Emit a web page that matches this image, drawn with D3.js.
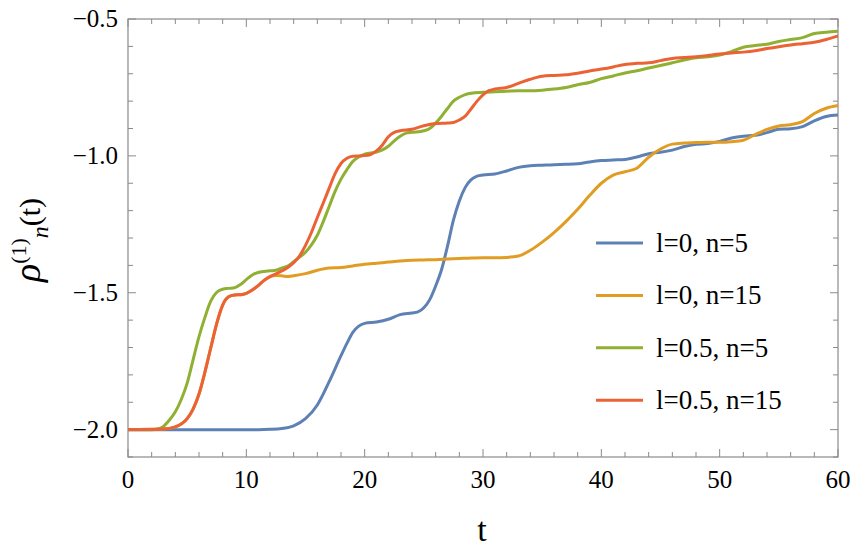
<!DOCTYPE html>
<html>
<head>
<meta charset="utf-8">
<script src="https://cdn.jsdelivr.net/npm/d3@7"></script>
</head>
<body style="margin:0">
<script>
var svgWidth = 855;
var svgHeight = 552;

var margin = { top: 19, right: 17, bottom: 95, left: 128 };
var width = svgWidth - margin.left - margin.right;
var height = svgHeight - margin.top - margin.bottom;

// series data, [t, rho] pairs
var blueData = [[0,-2],[4,-2],[8,-2],[11,-2],[12,-1.999],[13,-1.996],[14,-1.986],[15,-1.96],[16,-1.91],[17,-1.825],
  [18,-1.73],[18.5,-1.685],[19,-1.645],[19.5,-1.622],[20,-1.612],[21,-1.607],[22,-1.597],[23,-1.58],[24,-1.574],
  [24.5,-1.57],[25,-1.555],[25.5,-1.525],[26,-1.475],[26.5,-1.415],[27,-1.33],[27.5,-1.235],[28,-1.165],[28.5,-1.115],
  [29,-1.087],[29.5,-1.074],[30,-1.07],[31,-1.066],[32,-1.055],[33,-1.042],[34,-1.036],[35,-1.034],[36,-1.032],
  [37,-1.031],[38,-1.029],[39,-1.022],[40,-1.017],[41,-1.015],[42,-1.013],[43,-1.004],[44,-0.992],[45,-0.987],
  [46,-0.979],[47,-0.966],[48,-0.958],[49,-0.955],[50,-0.947],[51,-0.935],[52,-0.928],[53,-0.925],[54,-0.915],
  [55,-0.903],[56,-0.901],[57,-0.893],[58,-0.872],[59,-0.856],[60,-0.851]];

var orangeData = [[0,-2],[3,-1.998],[4,-1.99],[5,-1.96],[5.5,-1.925],[6,-1.87],[6.5,-1.79],[7,-1.7],[7.5,-1.612],
  [8,-1.545],[8.5,-1.515],[9,-1.508],[9.5,-1.507],[10,-1.502],[10.5,-1.49],[11,-1.474],[11.5,-1.455],[12,-1.441],
  [12.5,-1.437],[13,-1.438],[13.5,-1.441],[14,-1.438],[15,-1.43],[16,-1.418],[17,-1.41],[18,-1.408],[19,-1.402],
  [20,-1.396],[21,-1.392],[22,-1.388],[23,-1.384],[24,-1.381],[25,-1.38],[26,-1.379],[27,-1.377],[28,-1.375],
  [29,-1.373],[30,-1.372],[31,-1.372],[32,-1.371],[33,-1.366],[34,-1.345],[35,-1.315],[36,-1.28],[37,-1.24],
  [38,-1.195],[39,-1.145],[40,-1.1],[41,-1.07],[42,-1.058],[43,-1.045],[44,-1.005],[45,-0.975],[46,-0.957],
  [47,-0.953],[48,-0.951],[49,-0.95],[50,-0.95],[51,-0.948],[52,-0.943],[53,-0.922],[54,-0.903],[55,-0.891],
  [56,-0.886],[57,-0.875],[58,-0.845],[59,-0.826],[60,-0.816]];

var greenData = [[0,-2],[2,-2],[2.5,-1.998],[3,-1.988],[3.5,-1.965],[4,-1.935],[4.5,-1.89],[5,-1.83],[5.5,-1.745],
  [6,-1.66],[6.5,-1.59],[7,-1.53],[7.5,-1.498],[8,-1.487],[8.5,-1.484],[9,-1.482],[9.5,-1.47],[10,-1.452],
  [10.5,-1.435],[11,-1.426],[11.5,-1.422],[12,-1.42],[12.5,-1.418],[13,-1.41],[13.5,-1.403],[14,-1.387],
  [14.5,-1.37],[15,-1.352],[15.5,-1.325],[16,-1.29],[16.5,-1.24],[17,-1.185],[17.5,-1.13],[18,-1.085],
  [18.5,-1.05],[19,-1.02],[19.5,-1.004],[20,-0.994],[21,-0.986],[21.5,-0.978],[22,-0.965],[22.5,-0.945],
  [23,-0.928],[23.5,-0.917],[24,-0.914],[25,-0.908],[25.5,-0.9],[26,-0.88],[26.5,-0.855],[27,-0.827],
  [27.5,-0.8],[28,-0.786],[28.5,-0.776],[29,-0.771],[30,-0.768],[31,-0.766],[32,-0.764],[33,-0.762],
  [34,-0.762],[35,-0.76],[36,-0.756],[37,-0.75],[38,-0.74],[39,-0.732],[40,-0.718],[41,-0.708],[42,-0.697],
  [43,-0.689],[44,-0.679],[45,-0.67],[46,-0.66],[47,-0.65],[48,-0.642],[49,-0.638],[50,-0.632],[51,-0.619],
  [52,-0.603],[53,-0.597],[54,-0.592],[55,-0.582],[56,-0.575],[57,-0.568],[58,-0.553],[59,-0.548],[60,-0.545]];

var redData = [[0,-2],[3,-1.998],[4,-1.99],[5,-1.96],[5.5,-1.925],[6,-1.87],[6.5,-1.79],[7,-1.7],[7.5,-1.612],
  [8,-1.545],[8.5,-1.515],[9,-1.508],[9.5,-1.507],[10,-1.502],[10.5,-1.49],[11,-1.474],[11.5,-1.455],[12,-1.441],
  [12.5,-1.431],[13,-1.42],[13.5,-1.408],[14,-1.39],[14.5,-1.365],[15,-1.327],[15.5,-1.28],[16,-1.225],
  [16.5,-1.172],[17,-1.118],[17.5,-1.065],[18,-1.028],[18.5,-1.009],[19,-1.001],[20,-0.999],[20.5,-0.995],
  [21,-0.982],[21.5,-0.96],[22,-0.93],[22.5,-0.914],[23,-0.908],[24,-0.903],[25,-0.89],[26,-0.882],[27,-0.88],
  [27.5,-0.878],[28,-0.869],[28.5,-0.855],[29,-0.828],[29.5,-0.8],[30,-0.777],[30.5,-0.762],[31,-0.756],
  [32,-0.75],[33,-0.735],[34,-0.72],[35,-0.709],[36,-0.706],[37,-0.704],[38,-0.698],[39,-0.69],[40,-0.683],
  [41,-0.675],[42,-0.666],[43,-0.662],[44,-0.66],[45,-0.652],[46,-0.644],[47,-0.641],[48,-0.638],[49,-0.633],
  [50,-0.628],[51,-0.624],[52,-0.621],[53,-0.616],[54,-0.608],[55,-0.601],[56,-0.595],[57,-0.59],[58,-0.585],
  [59,-0.575],[60,-0.562]];

var seriesNames = ["l=0, n=5", "l=0, n=15", "l=0.5, n=5", "l=0.5, n=15"];
var seriesColors = ["#5E81B5", "#E19C24", "#8FB032", "#EB6235"];
var allSeries = [blueData, orangeData, greenData, redData];

var xTicks = [0, 10, 20, 30, 40, 50, 60];
var yTicks = [-2.0, -1.5, -1.0, -0.5];

var svg = d3.select("body")
  .append("svg")
  .attr("width", svgWidth)
  .attr("height", svgHeight)
  .attr("font-family", "Liberation Serif");

// helper: every text gets the serif face set both ways
function serifText(sel, size) {
  return sel.attr("font-size", size)
    .attr("font-family", "Liberation Serif")
    .style("font", size + "px 'Liberation Serif'");
}

var chartGroup = svg.append("g")
  .attr("transform", `translate(${margin.left}, ${margin.top})`);

var xScale = d3.scaleLinear().domain([0, 60]).range([0, width]);
var yScale = d3.scaleLinear().domain([-2.1, -0.5]).range([height, 0]);

var frameColor = "#8a8a8a";

// minor + major ticks, all pointing inward (Mathematica frame style)
var xMinor = d3.range(0, 60.01, 2);
var yMinor = d3.range(-2.1, -0.49, 0.1).map(d => +d.toFixed(2));

function isMajor(v, list) {
  return list.some(m => Math.abs(m - v) < 1e-6);
}

var ticks = chartGroup.append("g").attr("stroke", frameColor).attr("stroke-width", 1);

xMinor.forEach(function(v) {
  var len = isMajor(v, xTicks) ? 8 : 5;
  var x = xScale(v);
  ticks.append("line").attr("x1", x).attr("x2", x).attr("y1", height).attr("y2", height - len);
  ticks.append("line").attr("x1", x).attr("x2", x).attr("y1", 0).attr("y2", len);
});
yMinor.forEach(function(v) {
  var len = isMajor(v, yTicks) ? 8 : 5;
  var y = yScale(v);
  ticks.append("line").attr("x1", 0).attr("x2", len).attr("y1", y).attr("y2", y);
  ticks.append("line").attr("x1", width).attr("x2", width - len).attr("y1", y).attr("y2", y);
});

chartGroup.append("rect")
  .attr("width", width)
  .attr("height", height)
  .attr("fill", "none")
  .attr("stroke", frameColor)
  .attr("stroke-width", 1.2);

// tick labels
xTicks.forEach(function(v) {
  serifText(svg.append("text"), 25)
    .attr("x", margin.left + xScale(v))
    .attr("y", margin.top + height + 31)
    .attr("text-anchor", "middle")
    .text(v);
});

yTicks.forEach(function(v) {
  serifText(svg.append("text"), 25)
    .attr("x", margin.left - 10)
    .attr("y", margin.top + yScale(v) + 8)
    .attr("text-anchor", "end")
    .text("\u2212" + Math.abs(v).toFixed(1));
});

// curves
chartGroup.append("clipPath").attr("id", "plot-clip")
  .append("rect").attr("width", width).attr("height", height);

var line = d3.line()
  .x(d => xScale(d[0]))
  .y(d => yScale(d[1]))
  .curve(d3.curveMonotoneX);

chartGroup.append("g")
  .attr("clip-path", "url(#plot-clip)")
  .selectAll("path")
  .data(allSeries)
  .enter()
  .append("path")
  .attr("d", line)
  .attr("fill", "none")
  .attr("stroke", (d, i) => seriesColors[i])
  .attr("stroke-width", 3)
  .attr("stroke-linejoin", "round");

// legend
seriesNames.forEach(function(name, i) {
  var y = 243 + i * 52.4;
  svg.append("line")
    .attr("x1", 596).attr("x2", 643)
    .attr("y1", y).attr("y2", y)
    .attr("stroke", seriesColors[i])
    .attr("stroke-width", 3);
  serifText(svg.append("text"), 27)
    .attr("x", 656)
    .attr("y", y + 9)
    .text(name);
});

// axis labels
serifText(svg.append("text"), 34)
  .attr("x", 482)
  .attr("y", 541)
  .attr("text-anchor", "middle")
  .text("t");

var yLabel = serifText(svg.append("text"), 30)
  .attr("transform", "translate(40, 240) rotate(-90)")
  .attr("text-anchor", "middle");
yLabel.append("tspan").attr("font-style", "italic").style("font-size", "38px").text("\u03c1");
yLabel.append("tspan").attr("dy", -14).style("font-size", "22px").text("(1)");
yLabel.append("tspan").attr("dy", 22).attr("font-style", "italic").style("font-size", "24px").text("n");
yLabel.append("tspan").attr("dy", -8).style("font-size", "30px").text("(t)");
</script>
</body>
</html>
